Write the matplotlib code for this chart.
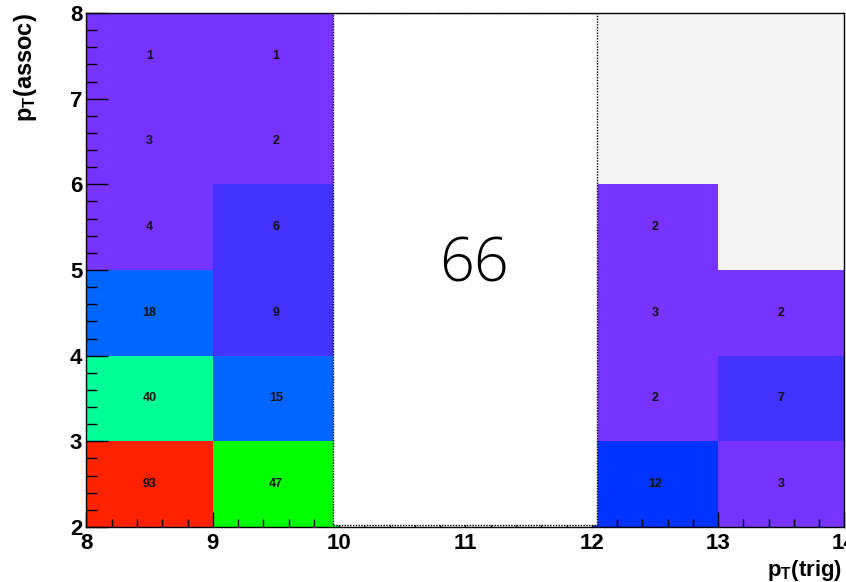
import numpy as np
import matplotlib
matplotlib.use("Agg")
import matplotlib.pyplot as plt
from matplotlib.colors import ListedColormap, BoundaryNorm
from matplotlib.patches import Rectangle

# bin edges
x_edges = [8, 9, 10, 11, 12, 13, 14]
y_edges = [2, 3, 4, 5, 6, 7, 8]

# counts per x bin, from low pT(assoc) to high (nan = empty / hidden)
col_8_9 = [93, 40, 18, 4, 3, 1]
col_9_10 = [47, 15, 9, 6, 2, 1]
col_10_11 = [np.nan] * 6
col_11_12 = [np.nan] * 6
col_12_13 = [12, 2, 3, 2, np.nan, np.nan]
col_13_14 = [3, 7, 2, np.nan, np.nan, np.nan]

box_label = "66"

# ROOT-like palette levels
levels = [0.5, 5, 10, 13, 30, 45, 60, 100]
palette = ["#7733ff", "#4433ff", "#0033ff", "#0066ff", "#00ff99", "#00ff00", "#ff2200"]

plt.rcParams['mathtext.fontset'] = 'custom'
plt.rcParams['mathtext.rm'] = 'Liberation Sans:bold'
plt.rcParams['mathtext.it'] = 'Liberation Sans:bold'
plt.rcParams['mathtext.bf'] = 'Liberation Sans:bold'

counts = np.array([col_8_9, col_9_10, col_10_11, col_11_12, col_12_13, col_13_14]).T

fig = plt.figure(figsize=(8.46, 5.82), dpi=100)
ax = fig.add_axes([0.1022, 0.0945, 0.8960, 0.8832])
ax.set_facecolor("#f4f4f4")

cmap = ListedColormap(palette)
norm = BoundaryNorm(levels, cmap.N)
ax.pcolormesh(x_edges, y_edges, np.ma.masked_invalid(counts), cmap=cmap, norm=norm)

for j in range(len(y_edges) - 1):
    for i in range(len(x_edges) - 1):
        v = counts[j, i]
        if np.isnan(v):
            continue
        xc = 0.5 * (x_edges[i] + x_edges[i + 1])
        yc = 0.5 * (y_edges[j] + y_edges[j + 1])
        ax.text(xc, yc, "%d" % v, ha="center", va="center", fontsize=9,
                fontweight="bold", color="#111111",
                family=["Liberation Sans Narrow", "Liberation Sans"])

# white overlay box with big number
ax.add_patch(Rectangle((9.95, 2.02), 2.09, 5.98, facecolor="white",
                       edgecolor="black", linestyle=(0, (1, 1)), linewidth=1.0, zorder=3))
ax.text(11.07, 5.05, box_label, ha="center", va="center", fontsize=44,
        family=["Open Sans", "DejaVu Sans"], fontweight="light", zorder=4)

ax.set_xlim(8, 14)
ax.set_ylim(2, 8)
ax.set_xticks(range(8, 15))
ax.set_yticks(range(2, 9))
ax.set_xticks(np.arange(8, 14.01, 0.2), minor=True)
ax.set_yticks(np.arange(2, 8.01, 0.2), minor=True)

ax.tick_params(axis="x", which="major", direction="in", length=11, width=1, pad=4,
               top=False, labelsize=16)
ax.tick_params(axis="x", which="minor", direction="in", length=5.5, width=1, top=False)
ax.tick_params(axis="y", which="major", direction="in", length=16, width=1, pad=3,
               right=False, labelsize=16)
ax.tick_params(axis="y", which="minor", direction="in", length=8, width=1, right=False)
for lab in ax.get_xticklabels() + ax.get_yticklabels():
    lab.set_fontfamily("Liberation Sans")
    lab.set_fontweight("bold")

for s in ax.spines.values():
    s.set_linewidth(1.0)
    s.set_zorder(5)

ax.set_xlabel(r"$p_T$(trig)", loc="right", fontsize=16, fontweight="bold",
              family="Liberation Sans")
ax.set_ylabel(r"$p_T$(assoc)", loc="top", fontsize=17, fontweight="bold",
              family="Liberation Sans")
ax.xaxis.set_label_coords(0.997, -0.06)
ax.yaxis.set_label_coords(-0.062, 1.0)

fig.savefig("out.png", dpi=100)
